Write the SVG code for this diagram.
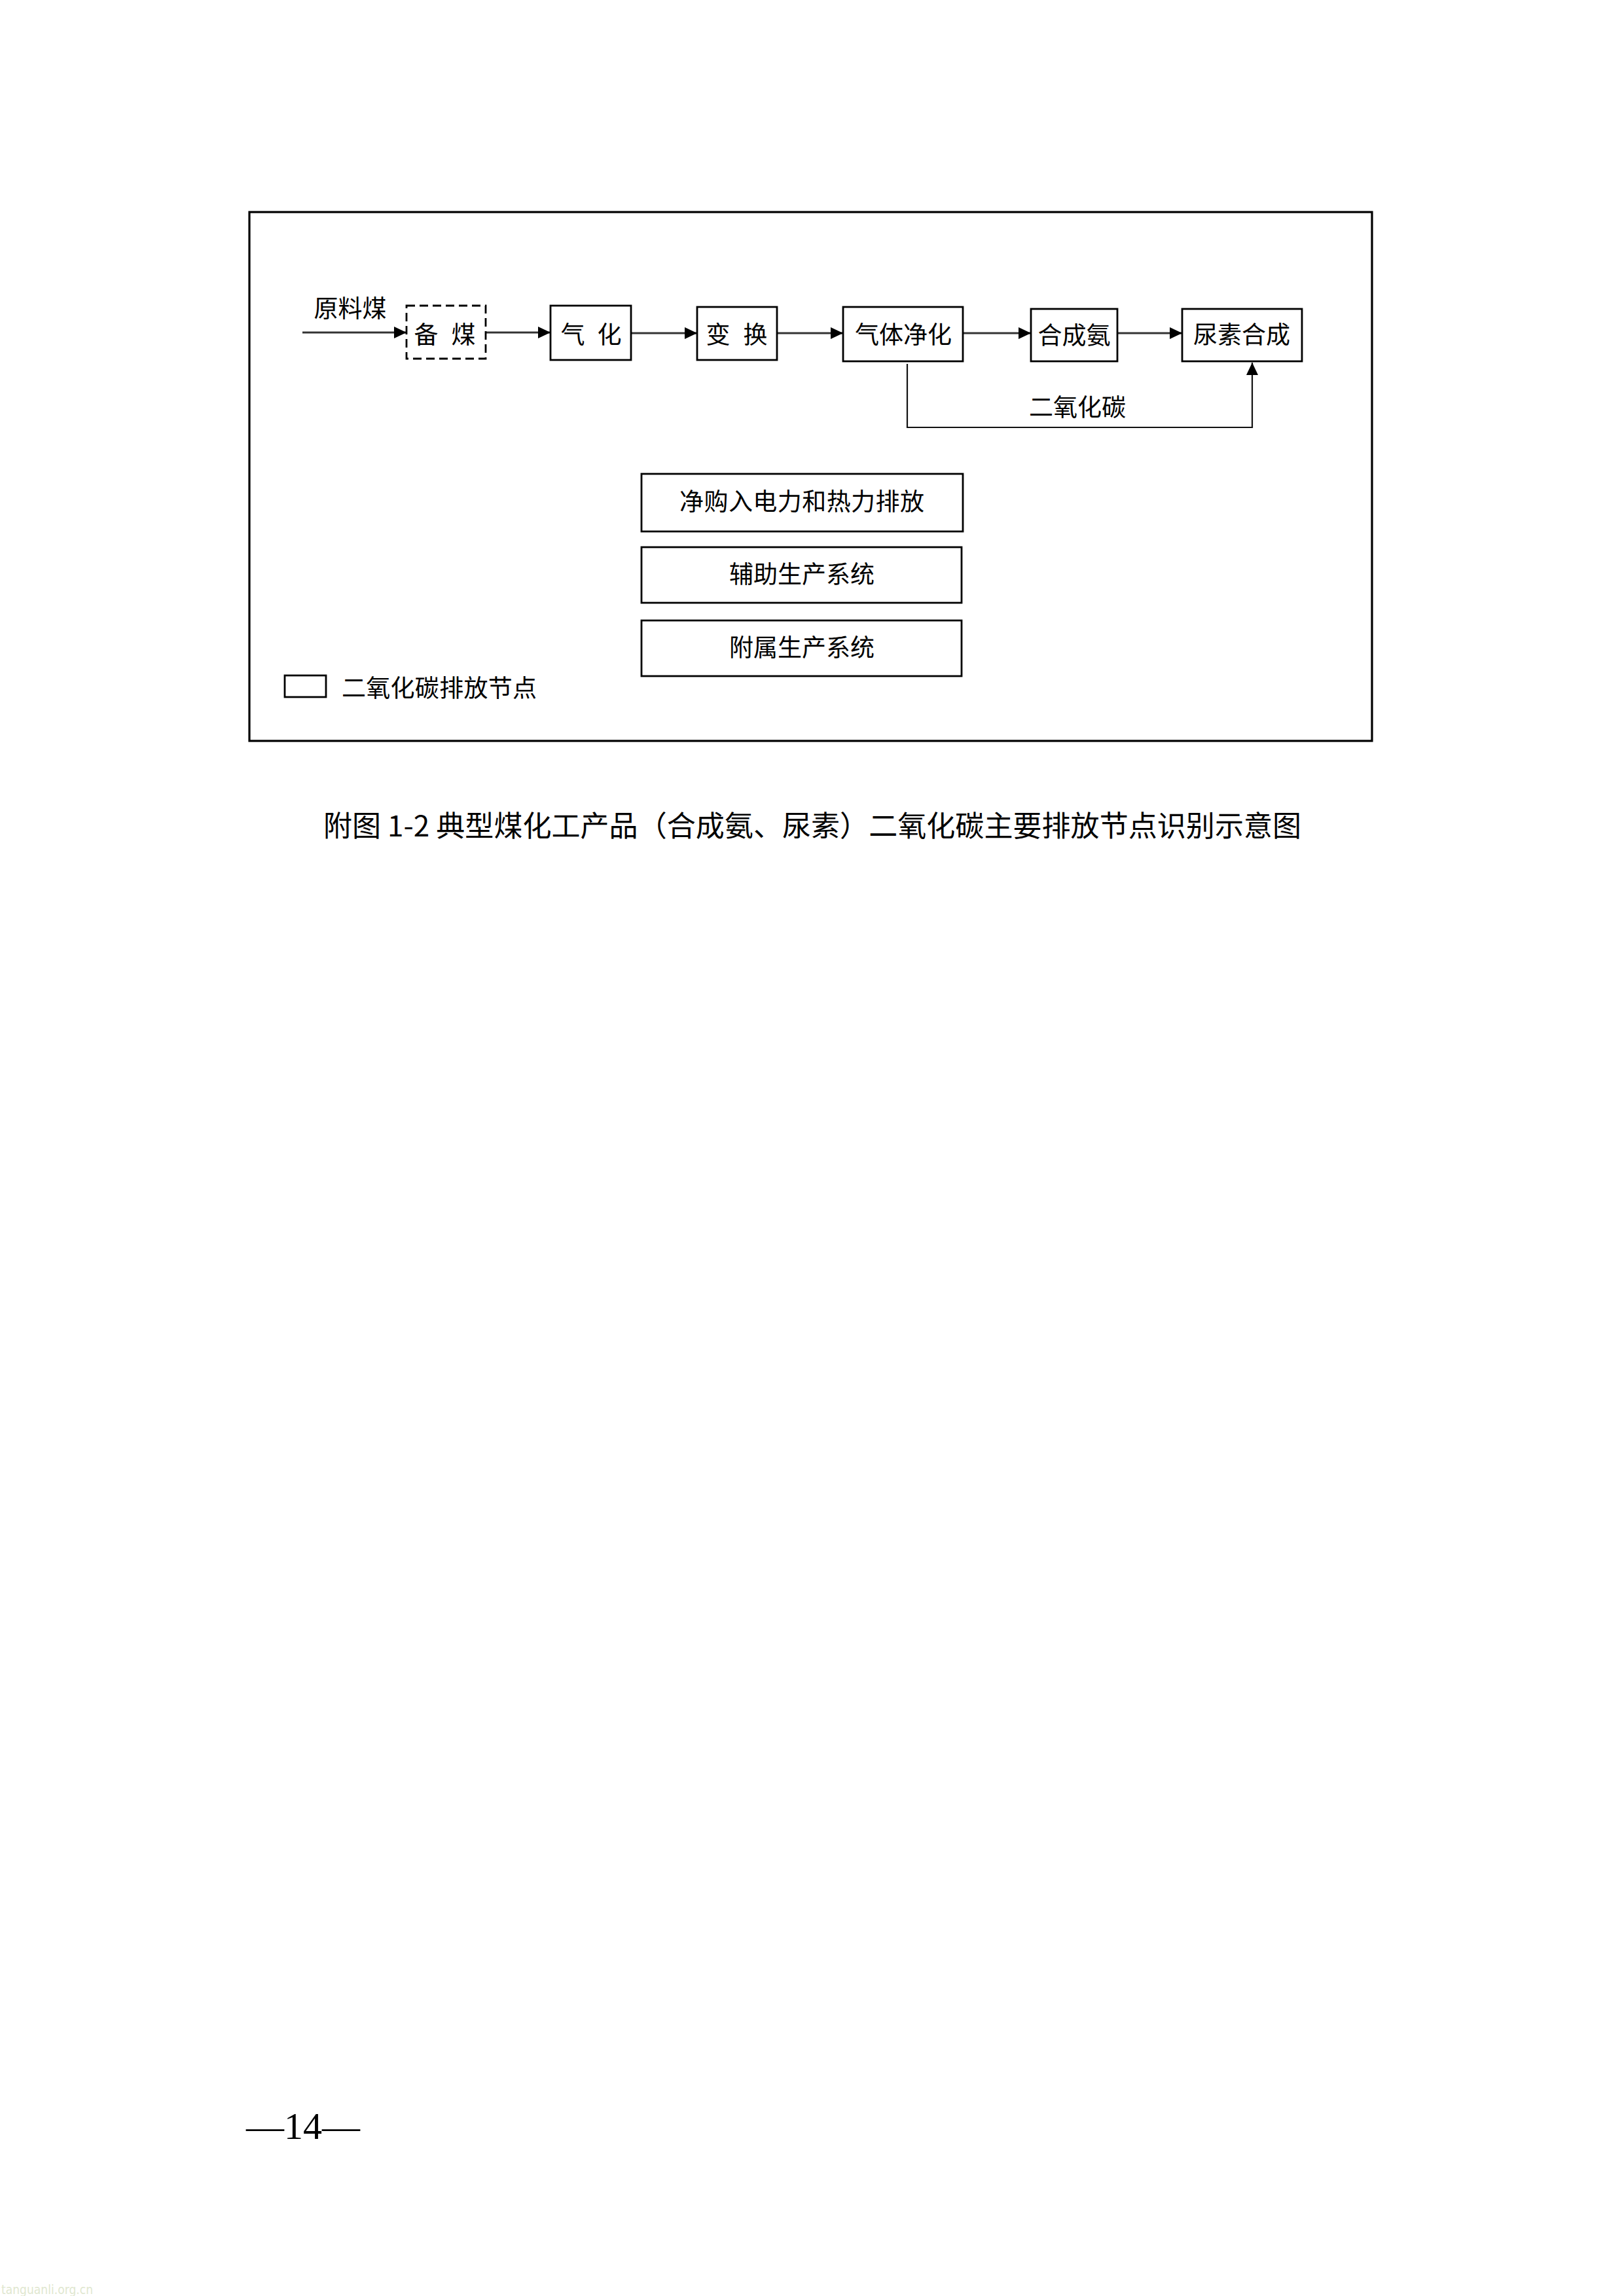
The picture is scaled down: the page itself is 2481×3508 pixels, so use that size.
<svg xmlns="http://www.w3.org/2000/svg" width="2481" height="3508" viewBox="0 0 2481 3508">
<style>
  .t { font-family: "Noto Sans CJK SC", "Noto Sans", sans-serif; font-size: 37px; fill: #000; }
  .mid { text-anchor: middle; }
  .box { fill: #fff; stroke: #000; stroke-width: 2.8; }
  .dash { fill: #fff; stroke: #000; stroke-width: 2.8; stroke-dasharray: 13 7; }
  .conn { fill: none; stroke: #333; stroke-width: 3.2; }
  .thin { fill: none; stroke: #111; stroke-width: 2.2; }
</style>
<defs>
  <marker id="ah" markerUnits="userSpaceOnUse" markerWidth="19" markerHeight="18" refX="19" refY="9" orient="auto" viewBox="0 0 19 18">
    <path d="M0,0 L19,9 L0,18 z" fill="#000"/>
  </marker>
</defs>
<rect width="2481" height="3508" fill="#fff"/>
<rect x="381" y="324" width="1715" height="808" fill="none" stroke="#000" stroke-width="3.2"/>

<g id="connectors">
  <line class="conn" x1="462" y1="508" x2="621" y2="508" marker-end="url(#ah)"/>
  <line class="conn" stroke="#000" x1="742" y1="508" x2="841" y2="508" marker-end="url(#ah)"/>
  <line class="conn" x1="964" y1="509" x2="1065" y2="509" marker-end="url(#ah)"/>
  <line class="conn" x1="1187" y1="509" x2="1288" y2="509" marker-end="url(#ah)"/>
  <line class="conn" x1="1471" y1="509" x2="1575" y2="509" marker-end="url(#ah)"/>
  <line class="conn" x1="1707" y1="509" x2="1806" y2="509" marker-end="url(#ah)"/>
  <polyline class="thin" points="1386,556 1386,653 1913,653 1913,554" marker-end="url(#ah)"/>
  <text class="t mid" x="1646" y="636">二氧化碳</text>
</g>

<g id="input-label">
  <text class="t mid" x="535" y="485">原料煤</text>
</g>

<g id="node-beimei">
  <rect class="dash" x="621" y="467" width="121" height="81"/>
  <text class="t mid" y="525"><tspan x="651">备</tspan><tspan x="708">煤</tspan></text>
</g>
<g id="node-qihua">
  <rect class="box" x="841" y="467" width="123" height="83"/>
  <text class="t mid" y="525"><tspan x="875">气</tspan><tspan x="931">化</tspan></text>
</g>
<g id="node-bianhuan">
  <rect class="box" x="1065" y="469" width="122" height="81"/>
  <text class="t mid" y="525"><tspan x="1097">变</tspan><tspan x="1154">换</tspan></text>
</g>
<g id="node-jinghua">
  <rect class="box" x="1288" y="469" width="183" height="83"/>
  <text class="t mid" x="1380" y="525">气体净化</text>
</g>
<g id="node-hechengan">
  <rect class="box" x="1575" y="472" width="132" height="80"/>
  <text class="t mid" x="1641" y="526">合成氨</text>
</g>
<g id="node-niaosu">
  <rect class="box" x="1806" y="472" width="183" height="80"/>
  <text class="t mid" x="1897" y="525">尿素合成</text>
</g>

<g id="node-dianli">
  <rect class="box" x="980" y="724" width="491" height="88"/>
  <text class="t mid" x="1225" y="780" textLength="374" lengthAdjust="spacing">净购入电力和热力排放</text>
</g>
<g id="node-fuzhu">
  <rect class="box" x="980" y="836" width="489" height="85"/>
  <text class="t mid" x="1225" y="891">辅助生产系统</text>
</g>
<g id="node-fushu">
  <rect class="box" x="980" y="948" width="489" height="85"/>
  <text class="t mid" x="1225" y="1003">附属生产系统</text>
</g>

<g id="legend">
  <rect class="box" x="435" y="1032" width="63" height="33"/>
  <text class="t" x="522" y="1065" textLength="298" lengthAdjust="spacing">二氧化碳排放节点</text>
</g>

<text class="t" x="494" y="1278" style="font-size:44px" textLength="1494" lengthAdjust="spacing">附图 1-2 典型煤化工产品（合成氨、尿素）二氧化碳主要排放节点识别示意图</text>

<text x="463" y="3268" text-anchor="middle" style="font-family:'Liberation Serif',serif;font-size:58px;fill:#000">—14—</text>

<text x="2" y="3505" textLength="140" lengthAdjust="spacingAndGlyphs" style="font-family:'DejaVu Sans',sans-serif;font-size:19px;fill:#dfe7cf">tanguanli.org.cn</text>
</svg>
